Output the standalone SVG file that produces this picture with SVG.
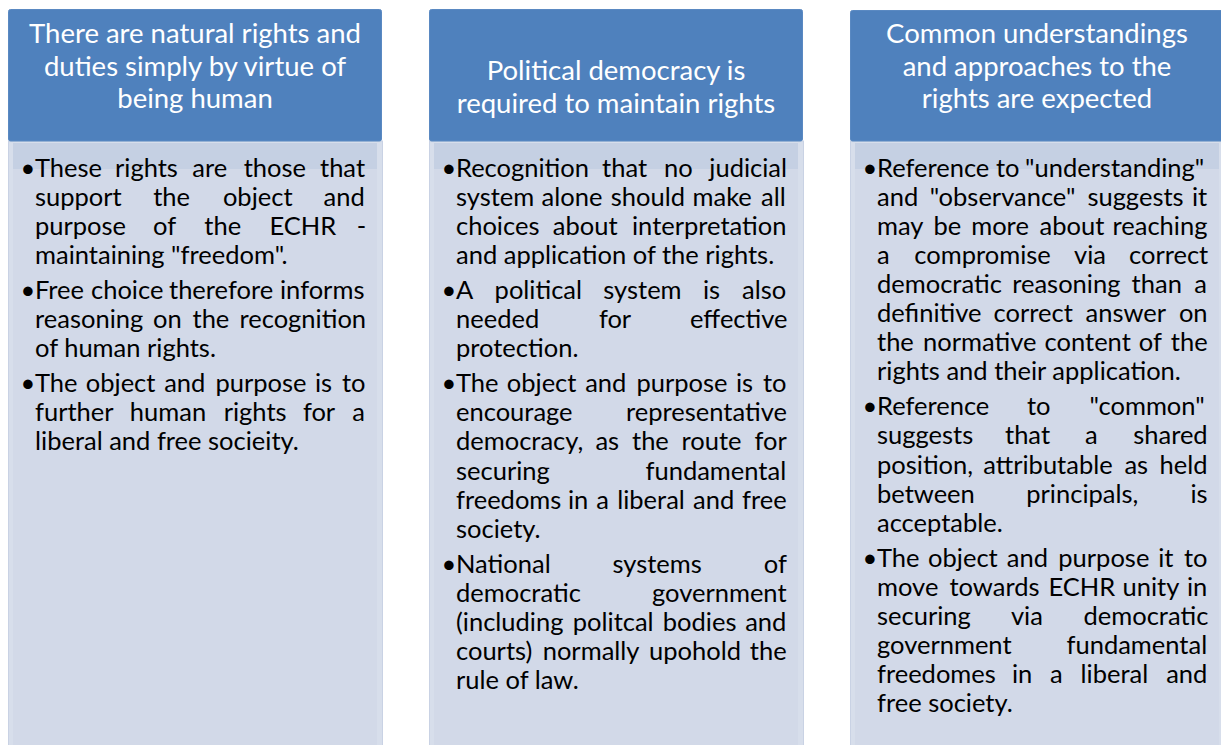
<svg xmlns="http://www.w3.org/2000/svg" width="1221" height="745" viewBox="0 0 1221 745">
<style>
.hdr{fill:#4F81BD;stroke:#5A89C2;stroke-width:1}
.body{fill:#D7DEEB;stroke:#C9D2E4;stroke-width:1}
.inner{fill:#D2D9E8}
.band{fill:#C5D0E3}
.ht{font-family:Lato,"Liberation Sans",sans-serif;font-size:27.5px;fill:#FFFFFF;text-anchor:middle}
.bt{font-family:Lato,"Liberation Sans",sans-serif;font-size:25.5px;fill:#000000}
.bl{font-family:Lato,"Liberation Sans",sans-serif;font-size:25.5px;fill:#000000;text-anchor:middle}
</style>
<rect width="1221" height="745" fill="#FFFFFF"/>

<g id="col1">
<rect class="body" x="8.5" y="141" width="374" height="610"/>
<rect class="inner" x="13" y="169" width="364" height="580"/>
<rect class="band" x="13" y="143" width="364" height="26"/>
<rect class="hdr" x="8.5" y="9.5" width="373" height="131.5" rx="2"/>
<text class="ht" x="195" y="43">There are natural rights and</text>
<text class="ht" x="195" y="75.5">duties simply by virtue of</text>
<text class="ht" x="195" y="108">being human</text>
<text class="bl" x="28" y="176.5">•</text>
<text class="bt" y="176.5"><tspan x="35">These</tspan><tspan x="115">rights</tspan><tspan x="192.3">are</tspan><tspan x="243.7">those</tspan><tspan x="320">that</tspan></text>
<text class="bt" y="205.6"><tspan x="35">support</tspan><tspan x="153.2">the</tspan><tspan x="222.9">object</tspan><tspan x="323.5">and</tspan></text>
<text class="bt" y="234.7"><tspan x="35">purpose</tspan><tspan x="153.1">of</tspan><tspan x="204.3">the</tspan><tspan x="269.5">ECHR</tspan><tspan x="356.8">-</tspan></text>
<text class="bt" x="35" y="263.8">maintaining "freedom".</text>
<text class="bl" x="28" y="298.9">•</text>
<text class="bt" y="298.9"><tspan x="35">Free</tspan><tspan x="91">choice</tspan><tspan x="169">therefore</tspan><tspan x="280">informs</tspan></text>
<text class="bt" y="328"><tspan x="35">reasoning</tspan><tspan x="153">on</tspan><tspan x="192.5">the</tspan><tspan x="239.5">recognition</tspan></text>
<text class="bt" x="35" y="357.1">of human rights.</text>
<text class="bl" x="28" y="392.2">•</text>
<text class="bt" y="392.2"><tspan x="35">The</tspan><tspan x="85.8">object</tspan><tspan x="164.2">and</tspan><tspan x="215.4">purpose</tspan><tspan x="315">is</tspan><tspan x="342">to</tspan></text>
<text class="bt" y="421.3"><tspan x="35">further</tspan><tspan x="129.8">human</tspan><tspan x="223.7">rights</tspan><tspan x="302.9">for</tspan><tspan x="352.2">a</tspan></text>
<text class="bt" x="35" y="450.4">liberal and free socieity.</text>
</g>

<g id="col2">
<rect class="body" x="429.5" y="141" width="374" height="610"/>
<rect class="inner" x="434" y="169" width="364" height="580"/>
<rect class="band" x="434" y="143" width="364" height="26"/>
<rect class="hdr" x="429.5" y="9.5" width="373" height="131.5" rx="2"/>
<text class="ht" x="616" y="80">Political democracy is</text>
<text class="ht" x="616" y="113">required to maintain rights</text>
<text class="bl" x="449" y="176.5">•</text>
<text class="bt" y="176.5"><tspan x="456">Recognition</tspan><tspan x="602.1">that</tspan><tspan x="664">no</tspan><tspan x="709.3">judicial</tspan></text>
<text class="bt" y="205.6"><tspan x="456">system</tspan><tspan x="541.5">alone</tspan><tspan x="610.8">should</tspan><tspan x="692.5">make</tspan><tspan x="761">all</tspan></text>
<text class="bt" y="234.7"><tspan x="456">choices</tspan><tspan x="552.8">about</tspan><tspan x="632">interpretation</tspan></text>
<text class="bt" x="456" y="263.8">and application of the rights.</text>
<text class="bl" x="449" y="298.9">•</text>
<text class="bt" y="298.9"><tspan x="456">A</tspan><tspan x="494.6">political</tspan><tspan x="603.3">system</tspan><tspan x="702.9">is</tspan><tspan x="742">also</tspan></text>
<text class="bt" y="328"><tspan x="456">needed</tspan><tspan x="598.9">for</tspan><tspan x="690">effective</tspan></text>
<text class="bt" x="456" y="357.1">protection.</text>
<text class="bl" x="449" y="392.2">•</text>
<text class="bt" y="392.2"><tspan x="456">The</tspan><tspan x="506.8">object</tspan><tspan x="585.2">and</tspan><tspan x="636.4">purpose</tspan><tspan x="736">is</tspan><tspan x="763">to</tspan></text>
<text class="bt" y="421.3"><tspan x="456">encourage</tspan><tspan x="626">representative</tspan></text>
<text class="bt" y="450.4"><tspan x="456">democracy,</tspan><tspan x="595.4">as</tspan><tspan x="632">the</tspan><tspan x="681.6">route</tspan><tspan x="754.5">for</tspan></text>
<text class="bt" y="479.5"><tspan x="456">securing</tspan><tspan x="645.5">fundamental</tspan></text>
<text class="bt" y="508.6"><tspan x="456">freedoms</tspan><tspan x="568">in</tspan><tspan x="596.3">a</tspan><tspan x="617.2">liberal</tspan><tspan x="693.1">and</tspan><tspan x="742">free</tspan></text>
<text class="bt" x="456" y="537.7">society.</text>
<text class="bl" x="449" y="572.8">•</text>
<text class="bt" y="572.8"><tspan x="456">National</tspan><tspan x="612.5">systems</tspan><tspan x="763.8">of</tspan></text>
<text class="bt" y="601.9"><tspan x="456">democratic</tspan><tspan x="652">government</tspan></text>
<text class="bt" y="631"><tspan x="456">(including</tspan><tspan x="572.8">politcal</tspan><tspan x="662.8">bodies</tspan><tspan x="745.2">and</tspan></text>
<text class="bt" y="660.1"><tspan x="456">courts)</tspan><tspan x="542.7">normally</tspan><tspan x="649">upohold</tspan><tspan x="749.8">the</tspan></text>
<text class="bt" x="456" y="689.2">rule of law.</text>
</g>

<g id="col3">
<rect class="body" x="850.5" y="141" width="374" height="610"/>
<rect class="inner" x="855" y="169" width="364" height="580"/>
<rect class="band" x="855" y="143" width="364" height="26"/>
<rect class="hdr" x="850.5" y="10.5" width="373" height="130.5" rx="2"/>
<text class="ht" x="1037" y="43">Common understandings</text>
<text class="ht" x="1037" y="75.5">and approaches to the</text>
<text class="ht" x="1037" y="108">rights are expected</text>
<text class="bl" x="870" y="176.5">•</text>
<text class="bt" y="176.5"><tspan x="877">Reference</tspan><tspan x="996">to</tspan><tspan x="1025">"understanding"</tspan></text>
<text class="bt" y="205.6"><tspan x="877">and</tspan><tspan x="929.7">"observance"</tspan><tspan x="1087.4">suggests</tspan><tspan x="1192">it</tspan></text>
<text class="bt" y="234.7"><tspan x="877">may</tspan><tspan x="933.5">be</tspan><tspan x="971.2">more</tspan><tspan x="1039.5">about</tspan><tspan x="1112.5">reaching</tspan></text>
<text class="bt" y="263.8"><tspan x="877">a</tspan><tspan x="914.3">compromise</tspan><tspan x="1074">via</tspan><tspan x="1129">correct</tspan></text>
<text class="bt" y="292.9"><tspan x="877">democratic</tspan><tspan x="1012.2">reasoning</tspan><tspan x="1131.6">than</tspan><tspan x="1194.2">a</tspan></text>
<text class="bt" y="322"><tspan x="877">definitive</tspan><tspan x="993.6">correct</tspan><tspan x="1085.5">answer</tspan><tspan x="1178.9">on</tspan></text>
<text class="bt" y="351.1"><tspan x="877">the</tspan><tspan x="923">normative</tspan><tspan x="1044.6">content</tspan><tspan x="1138.8">of</tspan><tspan x="1170.8">the</tspan></text>
<text class="bt" x="877" y="380.2">rights and their application.</text>
<text class="bl" x="870" y="415.3">•</text>
<text class="bt" y="415.3"><tspan x="877">Reference</tspan><tspan x="1027">to</tspan><tspan x="1089.6">"common"</tspan></text>
<text class="bt" y="444.4"><tspan x="877">suggests</tspan><tspan x="1005">that</tspan><tspan x="1085.1">a</tspan><tspan x="1133.2">shared</tspan></text>
<text class="bt" y="473.5"><tspan x="877">position,</tspan><tspan x="983.3">attributable</tspan><tspan x="1124.4">as</tspan><tspan x="1159.6">held</tspan></text>
<text class="bt" y="502.6"><tspan x="877">between</tspan><tspan x="1026.3">principals,</tspan><tspan x="1190.5">is</tspan></text>
<text class="bt" x="877" y="531.7">acceptable.</text>
<text class="bl" x="870" y="566.8">•</text>
<text class="bt" y="566.8"><tspan x="877">The</tspan><tspan x="928.1">object</tspan><tspan x="1006.8">and</tspan><tspan x="1058.3">purpose</tspan><tspan x="1158.2">it</tspan><tspan x="1184">to</tspan></text>
<text class="bt" y="595.9"><tspan x="877">move</tspan><tspan x="949.5">towards</tspan><tspan x="1048.5">ECHR</tspan><tspan x="1122.5">unity</tspan><tspan x="1186.9">in</tspan></text>
<text class="bt" y="625"><tspan x="877">securing</tspan><tspan x="1010.9">via</tspan><tspan x="1083.5">democratic</tspan></text>
<text class="bt" y="654.1"><tspan x="877">government</tspan><tspan x="1066.5">fundamental</tspan></text>
<text class="bt" y="683.2"><tspan x="877">freedomes</tspan><tspan x="1012">in</tspan><tspan x="1050">a</tspan><tspan x="1080.6">liberal</tspan><tspan x="1166.2">and</tspan></text>
<text class="bt" x="877" y="712.3">free society.</text>
</g>
</svg>
